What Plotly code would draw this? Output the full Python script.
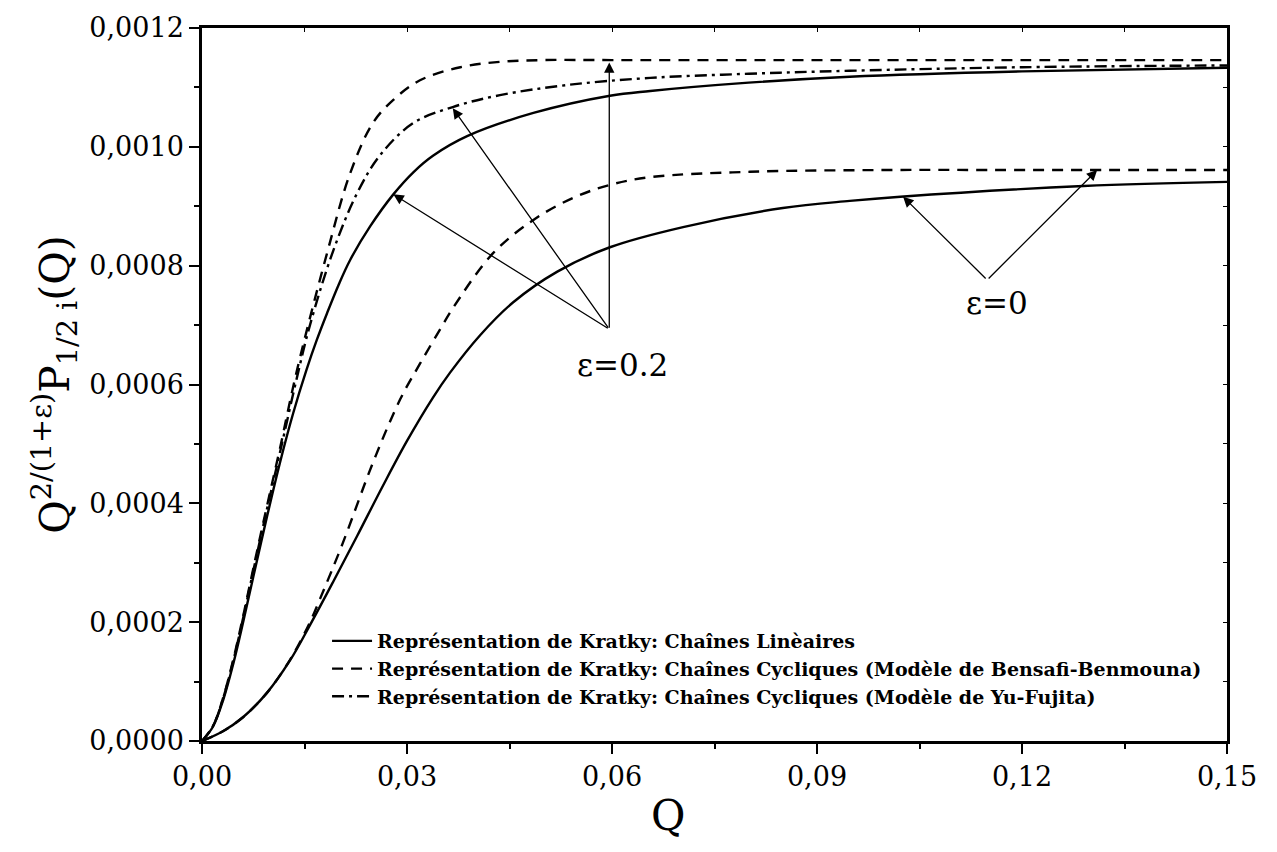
import plotly.graph_objects as go

# ---- data ----
q_lin02 = [0, 0.0016, 0.0031, 0.0046, 0.006, 0.0075, 0.0095, 0.0114, 0.0133, 0.0153, 0.0168, 0.0183,
           0.020, 0.0217, 0.0246, 0.028, 0.031, 0.0338, 0.0388, 0.0485, 0.0597, 0.0656, 0.080, 0.0948, 0.12, 0.15]
v_lin02 = [0, 0.000024, 0.000069, 0.000131, 0.000199, 0.000276, 0.000377, 0.000468, 0.000550, 0.000625,
           0.000675, 0.000720, 0.000768, 0.000810, 0.000866, 0.000920, 0.000958, 0.000985, 0.001018, 0.001057,
           0.001086, 0.001094, 0.001108, 0.001118, 0.001127, 0.001133]

q_yf02 = [0, 0.0016, 0.0031, 0.0046, 0.006, 0.0075, 0.0095, 0.0114, 0.0139, 0.0158, 0.0192, 0.0227,
          0.026, 0.0309, 0.0367, 0.0436, 0.0534, 0.0656, 0.080, 0.0948, 0.12, 0.15]
v_yf02 = [0, 0.000025, 0.000072, 0.000136, 0.000206, 0.000286, 0.00039, 0.000485, 0.000612, 0.000700,
          0.000825, 0.000922, 0.000985, 0.001040, 0.001067, 0.001087, 0.001104, 0.001116, 0.001123,
          0.001128, 0.001134, 0.001137]

q_bb02 = [0, 0.0016, 0.0031, 0.0046, 0.006, 0.0075, 0.0095, 0.0114, 0.0139, 0.0183, 0.0217, 0.025,
          0.028, 0.0319, 0.0378, 0.0436, 0.050, 0.060, 0.080, 0.100, 0.120, 0.15]
v_bb02 = [0, 0.000025, 0.000073, 0.000138, 0.000209, 0.00029, 0.000395, 0.000492, 0.000624, 0.000821,
          0.000956, 0.00104, 0.001079, 0.001112, 0.001134, 0.001143, 0.001146, 0.001146, 0.001146,
          0.001146, 0.001146, 0.001146]

q_lin0 = [0, 0.003, 0.006, 0.0095, 0.0129, 0.0158, 0.0192, 0.0227, 0.0265, 0.030, 0.0338, 0.0363,
          0.0407, 0.0455, 0.0520, 0.0597, 0.0704, 0.085, 0.0948, 0.1022, 0.129, 0.15]
v_lin0 = [0, 0.000016, 0.000040, 0.000081, 0.000136, 0.000195, 0.000268, 0.000345, 0.000430,
          0.000505, 0.000578, 0.000620, 0.000683, 0.000738, 0.000790, 0.000831, 0.000865, 0.000897,
          0.000909, 0.000916, 0.000934, 0.000941]

q_bb0 = [0, 0.003, 0.006, 0.0095, 0.0129, 0.0158, 0.0173, 0.0206, 0.025, 0.029, 0.0319, 0.0348,
         0.0368, 0.0426, 0.0485, 0.0543, 0.0597, 0.0656, 0.0802, 0.100, 0.120, 0.15]
v_bb0 = [0, 0.000016, 0.000040, 0.000081, 0.000137, 0.000200, 0.000240, 0.000333, 0.000468,
         0.000575, 0.000635, 0.000692, 0.00073, 0.000821, 0.000877, 0.000914, 0.000936, 0.000949,
         0.000958, 0.000961, 0.000961, 0.000961]

legend_names = [
    "Représentation de Kratky: Chaînes Linèaires",
    "Représentation de Kratky: Chaînes Cycliques (Modèle de Bensafi-Benmouna)",
    "Représentation de Kratky: Chaînes Cycliques (Modèle de Yu-Fujita)",
]

# annotation anchors (data coordinates)
eps02_origin = (0.0596, 0.000693)
eps02_tips = [(0.028, 0.000920), (0.0367, 0.001065), (0.0596, 0.001142)]
eps02_label = (0.0616, 0.000633)
eps0_origin = (0.1149, 0.000776)
eps0_tips = [(0.1026, 0.000916), (0.131, 0.000961)]
eps0_label = (0.1163, 0.000737)

SERIF = "DejaVu Serif"
DASH = "11px,8px"
DASHDOT = "12px,5px,3px,5px"
LW = 2.4

fig = go.Figure()
fig.add_trace(go.Scatter(x=q_lin02, y=v_lin02, mode="lines", line=dict(color="black", width=LW, shape="spline"),
                         name=legend_names[0], legendgroup="a"))
fig.add_trace(go.Scatter(x=q_bb02, y=v_bb02, mode="lines",
                         line=dict(color="black", width=LW, dash=DASH, shape="spline"),
                         name=legend_names[1], legendgroup="b"))
fig.add_trace(go.Scatter(x=q_yf02, y=v_yf02, mode="lines",
                         line=dict(color="black", width=LW, dash=DASHDOT, shape="spline"),
                         name=legend_names[2], legendgroup="c"))
fig.add_trace(go.Scatter(x=q_lin0, y=v_lin0, mode="lines", line=dict(color="black", width=LW, shape="spline"),
                         name=legend_names[0], legendgroup="a", showlegend=False))
fig.add_trace(go.Scatter(x=q_bb0, y=v_bb0, mode="lines",
                         line=dict(color="black", width=LW, dash=DASH, shape="spline"),
                         name=legend_names[1], legendgroup="b", showlegend=False))
# invisible trace to activate mirrored top/right axes
fig.add_trace(go.Scatter(x=[None], y=[None], xaxis="x2", yaxis="y2", showlegend=False, hoverinfo="skip"))

annotations = []
for (tx, ty) in eps02_tips:
    annotations.append(dict(x=tx, y=ty, ax=eps02_origin[0], ay=eps02_origin[1], xref="x", yref="y",
                            axref="x", ayref="y", text="", showarrow=True, arrowhead=2, arrowsize=1.6,
                            arrowwidth=1.3, arrowcolor="black", standoff=0, startstandoff=0))
for (tx, ty) in eps0_tips:
    annotations.append(dict(x=tx, y=ty, ax=eps0_origin[0], ay=eps0_origin[1], xref="x", yref="y",
                            axref="x", ayref="y", text="", showarrow=True, arrowhead=2, arrowsize=1.6,
                            arrowwidth=1.3, arrowcolor="black", standoff=0, startstandoff=0))
annotations.append(dict(x=eps02_label[0], y=eps02_label[1], xref="x", yref="y", text="ε=0.2",
                        showarrow=False, font=dict(family=SERIF, size=31, color="black")))
annotations.append(dict(x=eps0_label[0], y=eps0_label[1], xref="x", yref="y", text="ε=0",
                        showarrow=False, font=dict(family=SERIF, size=31, color="black")))
# x-axis title (placed as in the reference, slightly left of centre)
annotations.append(dict(x=0.455, y=-0.105, xref="paper", yref="paper", text="Q", showarrow=False,
                        yanchor="middle", font=dict(family=SERIF, size=42, color="black")))

fig.update_layout(
    width=1277, height=852,
    margin=dict(l=202, r=50, t=28, b=111),
    paper_bgcolor="white", plot_bgcolor="white",
    separators=", ",
    font=dict(family=SERIF, color="black"),
    showlegend=True,
    legend=dict(x=0.122, y=0.035, xanchor="left", yanchor="bottom", bgcolor="rgba(0,0,0,0)",
                font=dict(family=SERIF, size=19, color="black", weight="bold"),
                tracegroupgap=0, itemwidth=40),
    annotations=annotations,
    xaxis=dict(range=[0, 0.15], tickvals=[0, 0.03, 0.06, 0.09, 0.12, 0.15], tickformat=".2f",
               ticks="outside", ticklen=10, tickwidth=2, tickcolor="black",
               minor=dict(dtick=0.015, tick0=0, ticks="outside", ticklen=5, tickwidth=2, tickcolor="black", showgrid=False),
               showline=True, linecolor="black", linewidth=2.5, showgrid=False, zeroline=False,
               tickfont=dict(family=SERIF, size=27, color="black")),
    yaxis=dict(range=[0, 0.0012], tickvals=[0, 0.0002, 0.0004, 0.0006, 0.0008, 0.0010, 0.0012], tickformat=".4f",
               ticks="outside", ticklen=10, tickwidth=2, tickcolor="black",
               minor=dict(dtick=0.0001, tick0=0, ticks="outside", ticklen=5, tickwidth=2, tickcolor="black", showgrid=False),
               showline=True, linecolor="black", linewidth=2.5, showgrid=False, zeroline=False,
               tickfont=dict(family=SERIF, size=27, color="black"),
               title=dict(text="Q<sup>2/(1+ε)</sup>P<sub>1/2 i</sub>(Q)", font=dict(family=SERIF, size=41, color="black"),
                          standoff=8)),
    xaxis2=dict(overlaying="x", side="top", range=[0, 0.15], dtick=0.015, tick0=0, ticks="inside", ticklen=4,
                tickwidth=1, tickcolor="black", showticklabels=False, showline=True, linecolor="black",
                linewidth=2.5, showgrid=False, zeroline=False),
    yaxis2=dict(overlaying="y", side="right", range=[0, 0.0012], dtick=0.0001, tick0=0, ticks="inside", ticklen=4,
                tickwidth=1, tickcolor="black", showticklabels=False, showline=True, linecolor="black",
                linewidth=2.5, showgrid=False, zeroline=False),
)

fig.write_html("out.html")
